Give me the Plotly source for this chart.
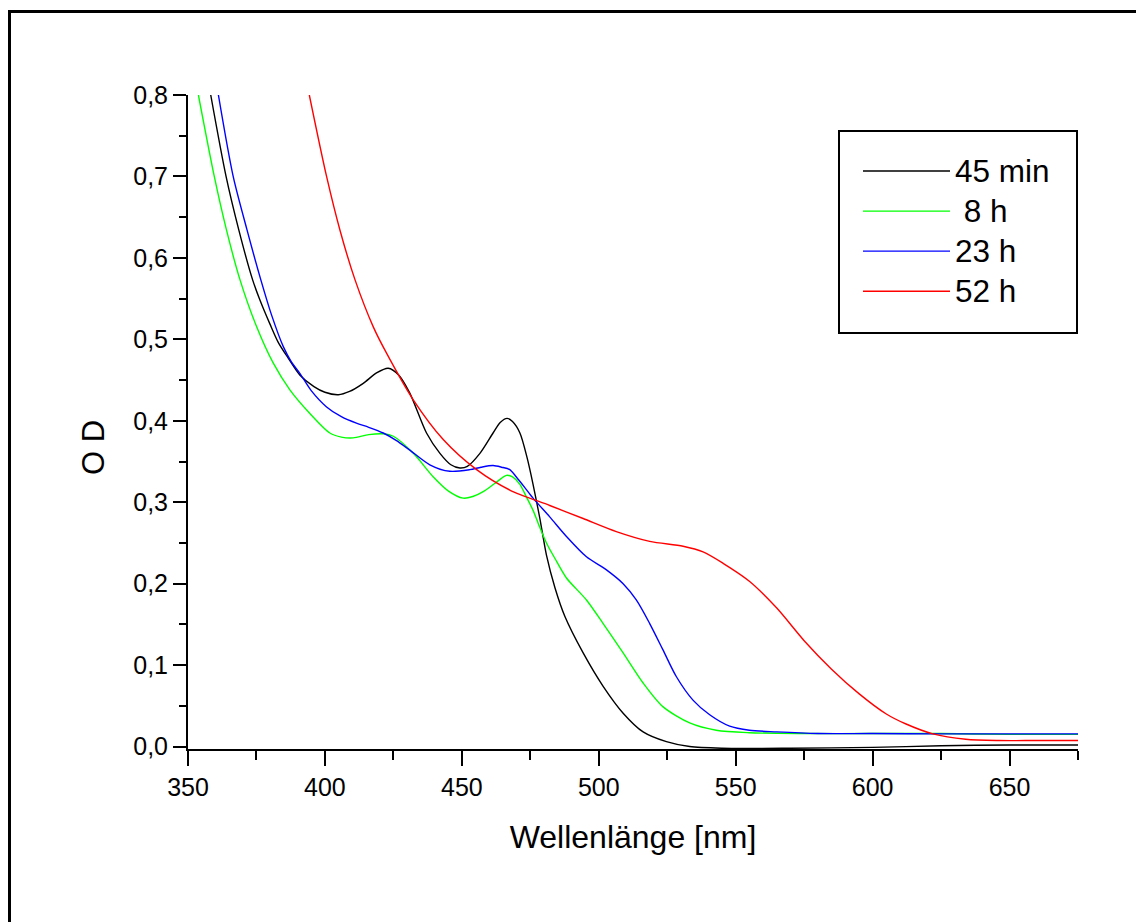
import plotly.graph_objects as go

# ---- data ----
wl_45min = [358.3, 363.9, 368.5, 373.6, 376.3, 379.9, 383, 386.6, 390.9, 396, 400, 404.9, 409, 414, 419, 423.1,
            427, 431, 437.1, 442, 446, 449.3, 452, 456.6, 461.4, 464, 466.5, 468.5, 471.2, 473.8, 476, 478.5,
            480.9, 484, 487.6, 494.3, 501.6, 508.9, 516.2, 524.7, 533.2, 545, 570, 600, 625, 650, 675]
od_45min = [0.80, 0.70, 0.635, 0.573, 0.548, 0.519, 0.496, 0.477, 0.456, 0.442, 0.435, 0.432, 0.436, 0.446, 0.459, 0.4645,
            0.456, 0.434, 0.385, 0.360, 0.346, 0.342, 0.344, 0.360, 0.385, 0.398, 0.403, 0.399, 0.385, 0.355, 0.322, 0.280,
            0.235, 0.195, 0.160, 0.115, 0.074, 0.041, 0.018, 0.006, 0.0, -0.002, -0.002, -0.001, 0.001, 0.002, 0.002]

wl_8h = [353.8, 359.6, 364, 369, 375, 381.1, 387.2, 394.5, 401.8, 406, 410.3, 416, 421.3, 425, 432.3,
         439.6, 445, 450.5, 454, 457.8, 462, 466.3, 468.5, 471.2, 473.5, 476, 477.9, 480.9, 484.5, 488.2,
         495.5, 501.6, 508.9, 516.2, 523.4, 533.2, 542.9, 555, 575, 600, 625, 650, 675]
od_8h = [0.80, 0.70, 0.635, 0.573, 0.516, 0.471, 0.438, 0.409, 0.385, 0.380, 0.379, 0.383, 0.384, 0.381, 0.360,
         0.331, 0.314, 0.305, 0.307, 0.313, 0.323, 0.333, 0.331, 0.322, 0.307, 0.290, 0.274, 0.250, 0.228, 0.207,
         0.180, 0.151, 0.115, 0.078, 0.049, 0.029, 0.020, 0.017, 0.016, 0.016, 0.016, 0.015, 0.015]

wl_23h = [361.1, 366.5, 371.5, 376.6, 380.5, 384.8, 387.8, 390.9, 395, 400.6, 406, 411.5, 416, 421.3, 426, 431, 438.3,
          445.6, 452.9, 457, 461.4, 464.5, 467.5, 469.9, 473, 476, 482.1, 488.2, 495.5, 502.8, 508.9, 513.7,
          518.6, 523.4, 528.3, 534.4, 540.5, 547.8, 555, 565, 580, 600, 625, 650, 675]
od_23h = [0.80, 0.70, 0.635, 0.573, 0.530, 0.491, 0.472, 0.458, 0.437, 0.417, 0.405, 0.397, 0.392, 0.385, 0.376, 0.364, 0.346,
          0.338, 0.340, 0.343, 0.345, 0.343, 0.340, 0.331, 0.318, 0.305, 0.282, 0.258, 0.233, 0.217, 0.200, 0.180,
          0.151, 0.119, 0.086, 0.057, 0.039, 0.025, 0.020, 0.018, 0.016, 0.016, 0.0156, 0.0156, 0.0156]

wl_52h = [394.3, 400.6, 405.5, 411, 417.7, 422.5, 432.2, 443.2, 455.4, 467.5, 482.1, 494.3, 506.4, 518.6,
          530.8, 538.1, 545.4, 555, 565, 575, 585, 595, 605, 612, 622, 634, 646, 660, 675]
od_52h = [0.80, 0.70, 0.634, 0.573, 0.515, 0.483, 0.426, 0.377, 0.340, 0.315, 0.296, 0.280, 0.264, 0.252,
          0.246, 0.239, 0.225, 0.203, 0.170, 0.130, 0.095, 0.065, 0.040, 0.028, 0.0156, 0.009, 0.0074, 0.0074, 0.0074]

series_names = ["45 min", "\u00a08 h", "23 h", "52 h"]
series_colors = ["#000000", "#00ff00", "#0000ff", "#ff0000"]
series_x = [wl_45min, wl_8h, wl_23h, wl_52h]
series_y = [od_45min, od_8h, od_23h, od_52h]

x_ticks = [350, 400, 450, 500, 550, 600, 650]
y_ticks = [0.0, 0.1, 0.2, 0.3, 0.4, 0.5, 0.6, 0.7, 0.8]

FONT = "Liberation Sans, Arial, sans-serif"

fig = go.Figure()
for name, col, xs, ys in zip(series_names, series_colors, series_x, series_y):
    fig.add_trace(go.Scatter(x=xs, y=ys, mode="lines",
                             name='<span style="font-size:31.5px">' + name + '</span>',
                             line=dict(color=col, width=1.4, shape="spline", smoothing=0.8)))

# plot area geometry (pixels)
L, R, T, B = 188, 58, 95, 173
W, H = 1136, 922
pw, ph = W - L - R, H - T - B

def px2paper_x(px):
    return (px - L) / pw

def px2paper_y(py):
    return (H - B - py) / ph

fig.update_layout(
    width=W, height=H,
    margin=dict(l=L, r=R, t=T, b=B, pad=0),
    paper_bgcolor="white", plot_bgcolor="white",
    separators=",.",
    font=dict(family=FONT, color="black", size=25),
    showlegend=True,
    legend=dict(
        x=px2paper_x(858), y=px2paper_y(146), xanchor="left", yanchor="top",
        bgcolor="rgba(0,0,0,0)", borderwidth=0,
        font=dict(family=FONT, size=28.5, color="black"),
        itemwidth=87,
    ),
    xaxis=dict(
        range=[350, 675], tickvals=x_ticks, ticks="outside", ticklen=15, tickwidth=2,
        tickcolor="black", showline=True, linewidth=2, linecolor="black", showgrid=False,
        zeroline=False, tickfont=dict(size=25),
        minor=dict(dtick=25, tick0=350, ticks="outside", ticklen=9, tickwidth=2, tickcolor="black", showgrid=False),
        title=dict(text="Wellenlänge [nm]", font=dict(size=32), standoff=26),
    ),
    yaxis=dict(
        range=[-0.003, 0.8], tickvals=y_ticks, tickformat=".1f", ticks="outside", ticklen=13, tickwidth=2,
        tickcolor="black", showline=True, linewidth=2, linecolor="black", showgrid=False,
        zeroline=False, tickfont=dict(size=25),
        minor=dict(dtick=0.05, tick0=0, ticks="outside", ticklen=7, tickwidth=2, tickcolor="black", showgrid=False),
    ),
    annotations=[dict(
        text="O D", textangle=-90, xref="paper", yref="paper",
        x=px2paper_x(93), y=px2paper_y(448), xanchor="center", yanchor="middle",
        showarrow=False, font=dict(family=FONT, size=31, color="black"),
    )],
    shapes=[
        dict(type="rect", xref="paper", yref="paper",
             x0=px2paper_x(9.5), y0=px2paper_y(960), x1=px2paper_x(1180), y1=px2paper_y(11.5),
             line=dict(color="black", width=3), fillcolor="rgba(0,0,0,0)", layer="below"),
        dict(type="rect", xref="paper", yref="paper",
             x0=px2paper_x(839), y0=px2paper_y(333), x1=px2paper_x(1077), y1=px2paper_y(131),
             line=dict(color="black", width=2), fillcolor="rgba(0,0,0,0)", layer="above"),
    ],
)

fig.write_html("out.html")
